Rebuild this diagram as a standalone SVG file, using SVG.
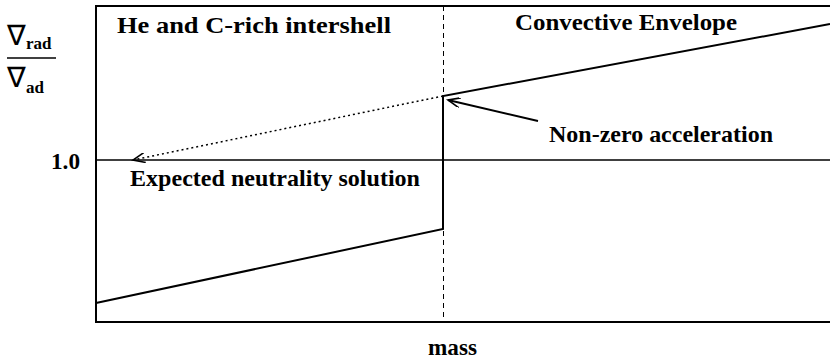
<svg xmlns="http://www.w3.org/2000/svg" width="830" height="363" viewBox="0 0 830 363">
<style>
text{font-family:"Liberation Serif","Times New Roman",serif;font-weight:bold;fill:#000}
.t{font-size:24px}
.ax{stroke:#000;stroke-width:2;fill:none}
.ln{stroke:#000;stroke-width:2;fill:none}
.nab{font-size:28px;font-weight:normal;font-family:"DejaVu Sans",sans-serif}
.sub{font-size:17px}
</style>
<defs>
<marker id="ah" markerWidth="14" markerHeight="10" refX="12" refY="5" orient="auto" markerUnits="userSpaceOnUse">
<path d="M0,0 L12,5 L0,10" fill="none" stroke="#000" stroke-width="1.6"/>
</marker>
</defs>
<rect width="830" height="363" fill="#fff"/>
<g id="axes">
<path class="ax" d="M830,6 H96 V322 H830"/>
<line x1="96" y1="160" x2="830" y2="160" stroke="#000" stroke-width="1.5"/>
<line x1="443.5" y1="6" x2="443.5" y2="322" stroke="#000" stroke-width="1" stroke-dasharray="5,4"/>
</g>
<g id="connectors">
<polyline class="ln" points="96,303 443,229 443,96 830,24"/>
<line x1="443" y1="96" x2="133" y2="160" stroke="#000" stroke-width="1.5" stroke-dasharray="2,3" marker-end="url(#ah)"/>
<line x1="538" y1="121" x2="448" y2="100" stroke="#000" stroke-width="1.8" marker-end="url(#ah)"/>
</g>
<g id="labels">
<text class="t" x="117" y="33" textLength="274" lengthAdjust="spacingAndGlyphs">He and C-rich intershell</text>
<text class="t" x="515" y="30" textLength="222" lengthAdjust="spacingAndGlyphs">Convective Envelope</text>
<text class="t" x="549" y="142" textLength="224" lengthAdjust="spacingAndGlyphs">Non-zero acceleration</text>
<text class="t" x="130" y="186" textLength="290" lengthAdjust="spacingAndGlyphs">Expected neutrality solution</text>
<text class="t" x="51" y="169" textLength="29" lengthAdjust="spacingAndGlyphs">1.0</text>
<text class="t" x="428" y="355" textLength="49" lengthAdjust="spacingAndGlyphs">mass</text>
</g>
<g id="ylabel">
<text class="nab" x="7" y="45">∇</text>
<text class="sub" x="26" y="49">rad</text>
<line x1="7" y1="58" x2="56" y2="58" stroke="#000" stroke-width="1.5"/>
<text class="nab" x="7" y="87">∇</text>
<text class="sub" x="26" y="93">ad</text>
</g>
</svg>
